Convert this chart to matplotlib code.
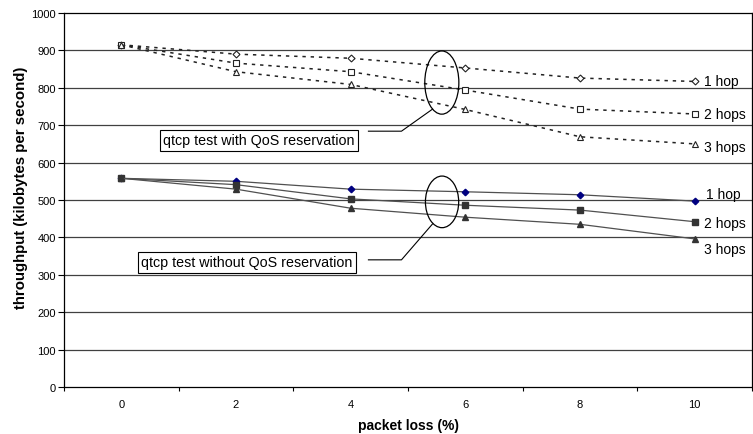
import matplotlib
matplotlib.use("Agg")
import matplotlib.pyplot as plt
from matplotlib.patches import Ellipse
import numpy as np

plt.rcParams['font.family'] = ['Liberation Sans', 'DejaVu Sans']

# packet loss (%) categories
perdas = [0, 2, 4, 6, 8, 10]

# qtcp com reserva QoS
qos_1hop = [915, 890, 879, 853, 826, 817]
qos_2hops = [915, 866, 843, 794, 743, 730]
qos_3hops = [915, 843, 809, 742, 669, 650]

# qtcp sem reserva QoS
sem_1hop = [558, 550, 529, 522, 514, 497]
sem_2hops = [558, 541, 503, 486, 473, 442]
sem_3hops = [558, 529, 478, 454, 435, 396]

rotulos = ["1 hop", "2 hops", "3 hops"]

fig = plt.figure(figsize=(7.53, 4.35), dpi=100)
ax = fig.add_axes([64/753, 47/435, 688/753, 374/435])

pos = np.arange(len(perdas))

# grade horizontal
for v in range(100, 1000, 100):
    ax.axhline(v, color='#404040', lw=0.9, zorder=1)

# linhas pontilhadas (com QoS)
estilo_qos = dict(color='#222222', lw=1.1, linestyle=(0, (2.2, 3.2)), zorder=3,
                  markerfacecolor='white', markeredgecolor='#222222', markeredgewidth=0.8)
ax.plot(pos, qos_1hop, marker='D', markersize=3.5, **estilo_qos)
ax.plot(pos, qos_2hops, marker='s', markersize=4.5, **estilo_qos)
ax.plot(pos, qos_3hops, marker='^', markersize=4.2, **estilo_qos)

# linhas solidas (sem QoS)
ax.plot(pos, sem_1hop, color='#505050', lw=0.9, marker='D', markersize=3.3,
        markerfacecolor='#000080', markeredgecolor='#000080', zorder=3)
ax.plot(pos, sem_2hops, color='#505050', lw=0.9, marker='s', markersize=5,
        markerfacecolor='#333333', markeredgecolor='#333333', zorder=3)
ax.plot(pos, sem_3hops, color='#505050', lw=0.9, marker='^', markersize=4.5,
        markerfacecolor='#333333', markeredgecolor='#333333', zorder=3)

# rotulos das series
desloc_qos = [(7, 0), (7, 0), (7, -2)]
desloc_sem = [(8, 5), (7, -1), (7, -7)]
for serie, txt, d in zip([qos_1hop, qos_2hops, qos_3hops], rotulos, desloc_qos):
    ax.annotate(txt, (pos[-1], serie[-1]), xytext=d, textcoords='offset points',
                fontsize=10, va='center', ha='left')
for serie, txt, d in zip([sem_1hop, sem_2hops, sem_3hops], rotulos, desloc_sem):
    ax.annotate(txt, (pos[-1], serie[-1]), xytext=d, textcoords='offset points',
                fontsize=10, va='center', ha='left')

# elipses e caixas de texto
ax.add_patch(Ellipse((2.795, 814), 0.297, 169, fill=False, ec='black', lw=0.9, zorder=4))
ax.add_patch(Ellipse((2.797, 495), 0.29, 138, fill=False, ec='black', lw=0.9, zorder=4))

ax.plot([2.155, 2.443, 2.714], [684, 684, 743], color='black', lw=0.8, zorder=4)
ax.plot([2.155, 2.443, 2.714], [340, 340, 436], color='black', lw=0.8, zorder=4)

caixa = dict(boxstyle='square,pad=0.25', fc='white', ec='black', lw=0.8)
ax.text(1.2, 660, "qtcp test with QoS reservation", fontsize=10.3,
        ha='center', va='center', bbox=caixa, zorder=5)
ax.text(1.095, 334, "qtcp test without QoS reservation", fontsize=10.3,
        ha='center', va='center', bbox=caixa, zorder=5)

# eixos
ax.set_xlim(-0.5, 5.5)
ax.set_ylim(0, 1000)
ax.set_xticks(pos)
ax.set_xticklabels([str(p) for p in perdas])
ax.set_xticks(np.arange(-0.5, 6, 1), minor=True)
ax.tick_params(axis='x', which='major', length=0, pad=9, labelsize=8)
ax.tick_params(axis='x', which='minor', length=3, direction='out', width=0.8)
ax.set_yticks(range(0, 1001, 100))
ax.tick_params(axis='y', length=4, width=0.8, pad=2, labelsize=8)

for s in ax.spines.values():
    s.set_linewidth(0.9)
    s.set_color('black')

ax.set_xlabel("packet loss (%)", fontsize=10, fontweight='bold', labelpad=6)
ax.set_ylabel("throughput (kilobytes per second)", fontsize=10.8, fontweight='bold')
ax.yaxis.set_label_coords(-0.053, 0.535)

fig.savefig("out.png", dpi=100)
